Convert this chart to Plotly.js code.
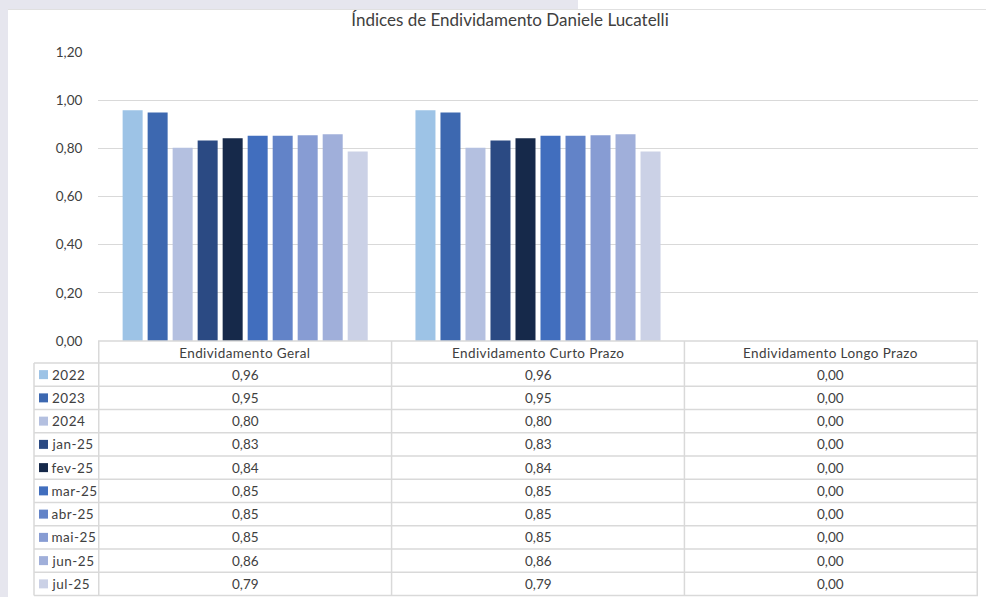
<!DOCTYPE html>
<html>
<head>
<meta charset="utf-8">
<script src="https://cdn.plot.ly/plotly-3.0.1.min.js"></script>
<style>
  html, body { margin: 0; padding: 0; background: #ffffff; }
  #chart { width: 986px; height: 597px; }
</style>
</head>
<body>
<div id="chart"></div>
<script>
// ---- Data ----
const categories = ["Endividamento Geral", "Endividamento Curto Prazo", "Endividamento Longo Prazo"];
const seriesNames = ["2022", "2023", "2024", "jan-25", "fev-25", "mar-25", "abr-25", "mai-25", "jun-25", "jul-25"];
const v2022 = [0.958, 0.958, 0.00];
const v2023 = [0.949, 0.949, 0.00];
const v2024 = [0.802, 0.802, 0.00];
const vJan25 = [0.833, 0.833, 0.00];
const vFev25 = [0.842, 0.842, 0.00];
const vMar25 = [0.852, 0.852, 0.00];
const vAbr25 = [0.852, 0.852, 0.00];
const vMai25 = [0.854, 0.854, 0.00];
const vJun25 = [0.858, 0.858, 0.00];
const vJul25 = [0.787, 0.787, 0.00];
const seriesValues = [v2022, v2023, v2024, vJan25, vFev25, vMar25, vAbr25, vMai25, vJun25, vJul25];
const yTickValues = [0, 0.2, 0.4, 0.6, 0.8, 1.0, 1.2];

// ---- Styles ----
const colors = ["#9DC3E6", "#3D68B0", "#B4C0E0", "#2B4A83", "#16294A", "#416EBE", "#6283C8", "#879CD3", "#A0AFDA", "#CBD1E6"];
const FONT = "Lato, 'Open Sans', sans-serif";
const TEXT = "#404040";
const LINE = "#D9D9D9";

// Layout geometry (pixels)
const W = 986, H = 597;
const L = 98, R = 978, T = 52, B = 341;
const PW = R - L, PH = B - T;
const px2x = p => (p - L) / PW;
const py2y = p => (B - p) / PH;
const headerBottom = 363;
const rowH = 23.25;
const tableBottom = headerBottom + rowH * seriesNames.length;
const legendLeft = 34;

const fmt = v => v.toFixed(2).replace('.', ',');

const traces = seriesNames.map((name, i) => ({
  type: 'bar',
  name: name,
  x: categories,
  y: seriesValues[i],
  marker: { color: colors[i], line: { width: 0 } },
  hoverinfo: 'none'
}));

const shapes = [];
const annotations = [];

// frame background
shapes.push({ type: 'rect', xref: 'paper', yref: 'paper', x0: px2x(0), x1: px2x(8), y0: py2y(597), y1: py2y(0), fillcolor: '#E6E6EE', line: { width: 0 }, layer: 'below' });
shapes.push({ type: 'rect', xref: 'paper', yref: 'paper', x0: px2x(0), x1: px2x(578), y0: py2y(9), y1: py2y(0), fillcolor: '#E6E6EE', line: { width: 0 }, layer: 'below' });
shapes.push({ type: 'line', xref: 'paper', yref: 'paper', x0: px2x(8), x1: px2x(986), y0: py2y(9.5), y1: py2y(9.5), line: { color: '#E0E0E0', width: 1 } });

// table horizontal lines
shapes.push({ type: 'line', xref: 'paper', yref: 'paper', x0: 0, x1: 1, y0: 0, y1: 0, line: { color: LINE, width: 1.5 } });
for (let r = 0; r <= seriesNames.length; r++) {
  const yy = py2y(headerBottom + rowH * r);
  shapes.push({ type: 'line', xref: 'paper', yref: 'paper', x0: px2x(legendLeft), x1: 1, y0: yy, y1: yy, line: { color: LINE, width: 1.5 } });
}
// table vertical lines (category boundaries on the x scale)
for (let c = 0; c <= categories.length; c++) {
  shapes.push({ type: 'line', xref: 'x', yref: 'paper', x0: c - 0.5, x1: c - 0.5, y0: 0, y1: py2y(tableBottom), line: { color: LINE, width: 1.5 } });
}
shapes.push({ type: 'line', xref: 'paper', yref: 'paper', x0: px2x(legendLeft), x1: px2x(legendLeft), y0: py2y(headerBottom), y1: py2y(tableBottom), line: { color: LINE, width: 1.5 } });

// header labels
categories.forEach(cat => {
  annotations.push({ xref: 'x', yref: 'paper', x: cat, y: py2y((B + headerBottom) / 2 + 0.5), text: cat, showarrow: false, xanchor: 'center', yanchor: 'middle', font: { family: FONT, size: 13.5, color: TEXT } });
});

// rows
seriesNames.forEach((name, i) => {
  const cy = headerBottom + rowH * (i + 0.5);
  shapes.push({ type: 'rect', xref: 'paper', yref: 'paper', x0: px2x(39), x1: px2x(48), y0: py2y(cy + 4.5), y1: py2y(cy - 4.5), fillcolor: colors[i], line: { width: 0 } });
  annotations.push({ xref: 'paper', yref: 'paper', x: px2x(51), y: py2y(cy), text: name, showarrow: false, xanchor: 'left', yanchor: 'middle', font: { family: FONT, size: 13.5, color: TEXT } });
  categories.forEach((cat, c) => {
    annotations.push({ xref: 'x', yref: 'paper', x: cat, y: py2y(cy), text: fmt(seriesValues[i][c]), showarrow: false, xanchor: 'center', yanchor: 'middle', font: { family: FONT, size: 13.5, color: TEXT } });
  });
});

const layout = {
  width: W, height: H,
  margin: { l: L, r: W - R, t: T, b: H - B, pad: 0 },
  paper_bgcolor: '#FFFFFF',
  plot_bgcolor: '#FFFFFF',
  separators: ',.',
  showlegend: false,
  barmode: 'group',
  bargap: 0.146,
  bargroupgap: 0.2,
  title: {
    text: 'Índices de Endividamento Daniele Lucatelli',
    xref: 'container', yref: 'container',
    x: 510 / W, xanchor: 'center',
    y: 1 - 20 / H, yanchor: 'middle',
    font: { family: FONT, size: 17, color: TEXT }
  },
  xaxis: {
    type: 'category',
    showticklabels: false,
    showgrid: false,
    zeroline: false,
    showline: false,
    ticks: ''
  },
  yaxis: {
    range: [0, 1.2],
    tickvals: yTickValues,
    tickformat: '.2f',
    showgrid: true,
    gridcolor: LINE,
    gridwidth: 1,
    zeroline: false,
    showline: false,
    ticks: 'outside',
    ticklen: 12,
    tickcolor: 'rgba(0,0,0,0)',
    tickfont: { family: FONT, size: 13.5, color: TEXT }
  },
  shapes: shapes,
  annotations: annotations
};

Plotly.newPlot('chart', traces, layout, { displayModeBar: false, staticPlot: true }).then(gd => {
  // Excel-style spaced lettering for the table header and legend labels
  gd.querySelectorAll('.annotation-text').forEach(t => {
    const s = t.textContent;
    if (categories.includes(s)) t.style.letterSpacing = '0.4px';
    else if (seriesNames.includes(s)) t.style.letterSpacing = '0.5px';
  });
});
</script>
</body>
</html>
